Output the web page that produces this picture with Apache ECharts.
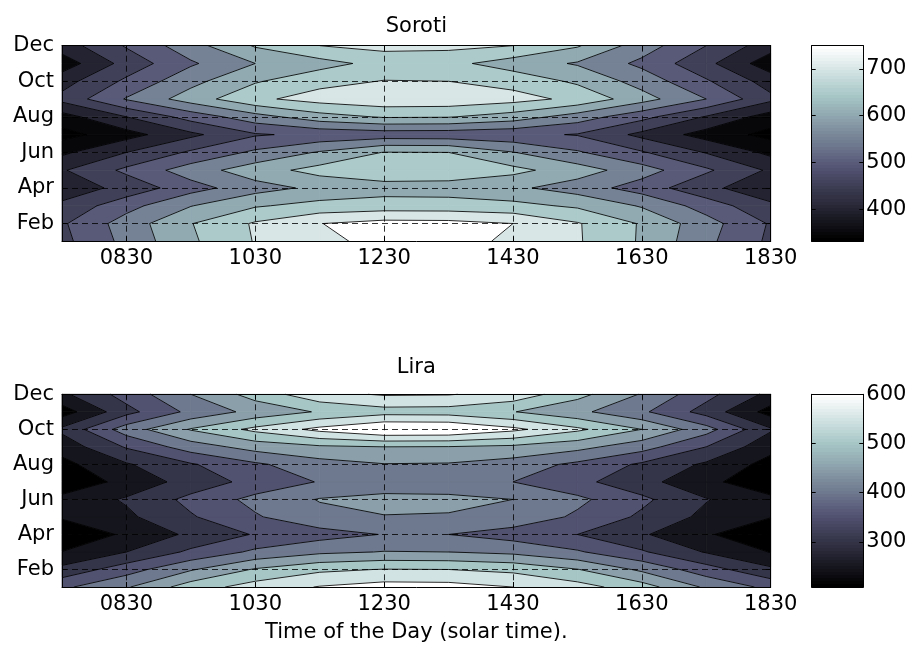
<!DOCTYPE html>
<html>
<head>
<meta charset="utf-8">
<script src="https://cdn.jsdelivr.net/npm/echarts@6/dist/echarts.min.js"></script>
<style>html,body{margin:0;padding:0;background:#fff}#chart{width:913px;height:649px}</style>
</head>
<body>
<div id="chart"></div>
<script>
// ---------- data ----------
const hours = ['0730','0830','0930','1030','1130','1230','1330','1430','1530','1630','1730','1830'];
const months = ['Jan','Feb','Mar','Apr','May','Jun','Jul','Aug','Sep','Oct','Nov','Dec'];

// rows = months (Jan..Dec), columns = hours (0730..1830)
const sorotiValues = [
  [486,565,642,703,740,762,760,745,705,644,562,490],
  [493,573,648,706,749,768,766,750,704,645,570,495],
  [462,532,598,645,666,673,672,664,642,595,528,460],
  [418,467,530,580,612,628,626,610,576,527,463,415],
  [445,511,575,628,668,688,686,664,624,572,508,442],
  [390,450,508,560,605,652,650,602,556,505,447,388],
  [331,381,439,495,512,521,519,512,497,437,380,334],
  [380,450,520,580,630,655,653,627,576,516,446,377],
  [465,554,624,690,720,735,733,718,688,620,550,462],
  [430,510,585,645,685,702,700,682,641,580,506,428],
  [372,469,543,600,631,668,664,626,595,538,464,370],
  [425,505,580,655,700,715,713,700,655,575,500,422]
];
const liraValues = [
  [390,445,525,572,603,620,618,600,570,522,442,386],
  [315,378,445,505,540,552,550,538,502,440,372,310],
  [251,300,360,410,440,452,450,438,406,356,296,248],
  [208,259,310,354,380,402,400,378,350,306,256,210],
  [256,290,345,395,435,448,446,432,392,341,287,252],
  [265,306,364,414,453,465,463,450,411,361,303,262],
  [212,266,320,367,403,420,418,400,364,317,263,214],
  [235,295,345,392,430,448,446,427,389,342,292,232],
  [270,355,425,470,492,500,498,490,466,421,350,266],
  [311,425,504,563,614,652,650,612,560,500,420,306],
  [225,334,413,466,505,530,528,502,462,409,330,230],
  [290,370,450,520,585,605,603,582,516,446,366,286]
];
const sorotiLevels = [350,400,450,500,550,600,650,700,750];
const liraLevels = [250,300,350,400,450,500,550,600];
const sorotiBarTicks = [400,500,600,700];
const liraBarTicks = [300,400,500,600];
const titles = ['Soroti','Lira'];
const xName = 'Time of the Day (solar time).';

// ---------- helpers ----------
const FONT = 'DejaVu Sans';
const FS = 21;
function clamp(x){return Math.max(0,Math.min(1,x));}
function bone(t){
  const r=(7*t+clamp(4*t-3))/8, g=(7*t+clamp(8/3*t-1))/8, b=(7*t+Math.min(1,8/3*t))/8;
  const h=v=>Math.round(clamp(v)*255);
  return 'rgb('+h(r)+','+h(g)+','+h(b)+')';
}
function mapColor(v,cmin,cmax){
  const k=Math.max(0,Math.min(63,Math.floor((v-cmin)/(cmax-cmin)*64)));
  return bone(k/63);
}
function makeCells(values){
  const cells=[];
  for(let j=0;j<months.length-1;j++)
    for(let i=0;i<hours.length-1;i++)
      cells.push([i,j,values[j][i],values[j][i+1],values[j+1][i+1],values[j+1][i]]);
  return cells;
}
function lerp(A,B,t){return [A[0]+(B[0]-A[0])*t, A[1]+(B[1]-A[1])*t];}
function cellGeom(api){
  const i=api.value(0), j=api.value(1);
  const v=[api.value(2),api.value(3),api.value(4),api.value(5)];
  const P=[api.coord([i,j]),api.coord([i+1,j]),api.coord([i+1,j+1]),api.coord([i,j+1])];
  return {v,P};
}
function fillRender(levels,cmin,cmax){
  const bounds=[-Infinity].concat(levels,[Infinity]);
  const colors=[mapColor(cmin,cmin,cmax)].concat(levels.map(l=>mapColor(l,cmin,cmax)));
  return function(params,api){
    const {v,P}=cellGeom(api);
    const children=[];
    for(let b=0;b<bounds.length-1;b++){
      const lo=bounds[b], hi=bounds[b+1];
      const pts=[];
      for(let k=0;k<4;k++){
        const A=P[k],B=P[(k+1)%4],va=v[k],vb=v[(k+1)%4];
        if(va>=lo&&va<hi) pts.push(A);
        const ts=[];
        [lo,hi].forEach(th=>{ if(isFinite(th)&&((va<th)!==(vb<th))) ts.push((th-va)/(vb-va)); });
        ts.sort((a,c)=>a-c).forEach(t=>pts.push(lerp(A,B,t)));
      }
      if(pts.length>=3) children.push({type:'polygon',shape:{points:pts},
        style:{fill:colors[b],stroke:colors[b],lineWidth:0.8}});
    }
    return {type:'group',children};
  };
}
function lineRender(levels){
  return function(params,api){
    const {v,P}=cellGeom(api);
    const children=[];
    levels.forEach(L=>{
      const pts=[];
      for(let k=0;k<4;k++){
        const A=P[k],B=P[(k+1)%4],va=v[k],vb=v[(k+1)%4];
        if((va<L)!==(vb<L)) pts.push(lerp(A,B,(L-va)/(vb-va)));
      }
      const segs = pts.length===2?[[pts[0],pts[1]]]:pts.length===4?[[pts[0],pts[1]],[pts[2],pts[3]]]:[];
      segs.forEach(s=>children.push({type:'polyline',shape:{points:s},style:{stroke:'#000',lineWidth:0.85,fill:null}}));
    });
    return {type:'group',children};
  };
}
function barRender(cmin,cmax){
  const stops=[];
  for(let k=0;k<64;k++){
    const c=bone(k/63);
    stops.push({offset:k/64,color:c});
    stops.push({offset:(k+1)/64,color:c});
  }
  return function(params,api){
    const p0=api.coord([0,cmax]), p1=api.coord([1,cmin]);
    return {type:'rect',shape:{x:p0[0],y:p0[1],width:p1[0]-p0[0],height:p1[1]-p0[1]},
      style:{fill:{type:'linear',x:0,y:1,x2:0,y2:0,colorStops:stops,global:false}}};
  };
}

// ---------- layout ----------
const plotLeft=62, plotWidth=708.7, barLeft=811.7, barWidth=51.6;
const tops=[45.7,394.3], heights=[195.6,192.7];
const datasets=[sorotiValues,liraValues];
const levelSets=[sorotiLevels,liraLevels];
const barTicks=[sorotiBarTicks,liraBarTicks];

const odd=(idx)=>idx%2===1;
const dash={color:'#000',width:0.8,type:[6,4]};
const grids=[], xAxes=[], yAxes=[], series=[], titleList=[];

for(let p=0;p<2;p++){
  const vals=datasets[p], levels=levelSets[p];
  const cmin=Math.min.apply(null,vals.flat());
  const cmax=Math.max.apply(null,levels);
  const gMain=grids.length;
  grids.push({left:plotLeft,top:tops[p],width:plotWidth,height:heights[p]});
  const gBar=grids.length;
  grids.push({left:barLeft,top:tops[p],width:barWidth,height:heights[p]});

  const xb=xAxes.length;
  xAxes.push({type:'category',gridIndex:gMain,data:hours,boundaryGap:false,position:'bottom',z:5,
    axisLine:{show:true,onZero:false,lineStyle:{color:'#000',width:1}},
    axisTick:{show:true,inside:true,length:5,interval:odd,lineStyle:{color:'#000'}},
    axisLabel:{show:true,interval:odd,margin:7,color:'#000',fontFamily:FONT,fontSize:FS},
    splitLine:{show:true,interval:odd,lineStyle:dash},
    name:p===1?xName:'',nameLocation:'middle',nameGap:35,
    nameTextStyle:{color:'#000',fontFamily:FONT,fontSize:FS}});
  xAxes.push({type:'category',gridIndex:gMain,data:hours,boundaryGap:false,position:'top',z:5,
    axisLine:{show:true,onZero:false,lineStyle:{color:'#000',width:1}},
    axisTick:{show:true,inside:true,length:5,interval:odd,lineStyle:{color:'#000'}},
    axisLabel:{show:false},splitLine:{show:false}});
  const yb=yAxes.length;
  yAxes.push({type:'category',gridIndex:gMain,data:months,boundaryGap:false,position:'left',z:5,
    axisLine:{show:true,onZero:false,lineStyle:{color:'#000',width:1}},
    axisTick:{show:true,inside:true,length:5,interval:odd,lineStyle:{color:'#000'}},
    axisLabel:{show:true,interval:odd,margin:8,color:'#000',fontFamily:FONT,fontSize:FS},
    splitLine:{show:true,interval:odd,lineStyle:dash}});
  yAxes.push({type:'category',gridIndex:gMain,data:months,boundaryGap:false,position:'right',z:5,
    axisLine:{show:true,onZero:false,lineStyle:{color:'#000',width:1}},
    axisTick:{show:true,inside:true,length:5,interval:odd,lineStyle:{color:'#000'}},
    axisLabel:{show:false},splitLine:{show:false}});

  const cells=makeCells(vals);
  series.push({type:'custom',xAxisIndex:xb,yAxisIndex:yb,coordinateSystem:'cartesian2d',
    dimensions:['x','y','v0','v1','v2','v3'],encode:{x:0,y:1},
    data:cells,renderItem:fillRender(levels,cmin,cmax),silent:true,z:1,animation:false});
  series.push({type:'custom',xAxisIndex:xb,yAxisIndex:yb,coordinateSystem:'cartesian2d',
    dimensions:['x','y','v0','v1','v2','v3'],encode:{x:0,y:1},
    data:cells,renderItem:lineRender(levels),silent:true,z:2,animation:false});

  const bx=xAxes.length;
  xAxes.push({type:'value',gridIndex:gBar,min:0,max:1,position:'bottom',z:5,
    axisLine:{show:true,onZero:false,lineStyle:{color:'#000',width:1}},
    axisTick:{show:false},axisLabel:{show:false},splitLine:{show:false}});
  xAxes.push({type:'value',gridIndex:gBar,min:0,max:1,position:'top',z:5,
    axisLine:{show:true,onZero:false,lineStyle:{color:'#000',width:1}},
    axisTick:{show:false},axisLabel:{show:false},splitLine:{show:false}});
  const ticks=barTicks[p];
  const by=yAxes.length;
  yAxes.push({type:'value',gridIndex:gBar,min:cmin,max:cmax,position:'left',z:5,
    axisLine:{show:true,onZero:false,lineStyle:{color:'#000',width:1}},
    axisTick:{show:true,inside:true,length:4,customValues:ticks,lineStyle:{color:'#000'}},
    axisLabel:{show:false},splitLine:{show:false}});
  yAxes.push({type:'value',gridIndex:gBar,min:cmin,max:cmax,position:'right',z:5,
    axisLine:{show:true,onZero:false,lineStyle:{color:'#000',width:1}},
    axisTick:{show:true,inside:true,length:4,customValues:ticks,lineStyle:{color:'#000'}},
    axisLabel:{show:true,margin:3,customValues:ticks,color:'#000',fontFamily:FONT,fontSize:FS,
      formatter:(v)=>ticks.indexOf(v)>=0?String(v):''},
    splitLine:{show:false}});
  series.push({type:'custom',xAxisIndex:bx,yAxisIndex:by,coordinateSystem:'cartesian2d',
    data:[[0,cmin]],renderItem:barRender(cmin,cmax),silent:true,z:1,animation:false});

  titleList.push({text:titles[p],left:plotLeft+plotWidth/2,top:p===0?16:357,textAlign:'center',padding:0,
    textStyle:{color:'#000',fontFamily:FONT,fontSize:FS,fontWeight:'normal'}});
}

const chart=echarts.init(document.getElementById('chart'),null,{renderer:'canvas'});
chart.setOption({backgroundColor:'#fff',animation:false,title:titleList,grid:grids,xAxis:xAxes,yAxis:yAxes,series:series});
</script>
</body>
</html>
